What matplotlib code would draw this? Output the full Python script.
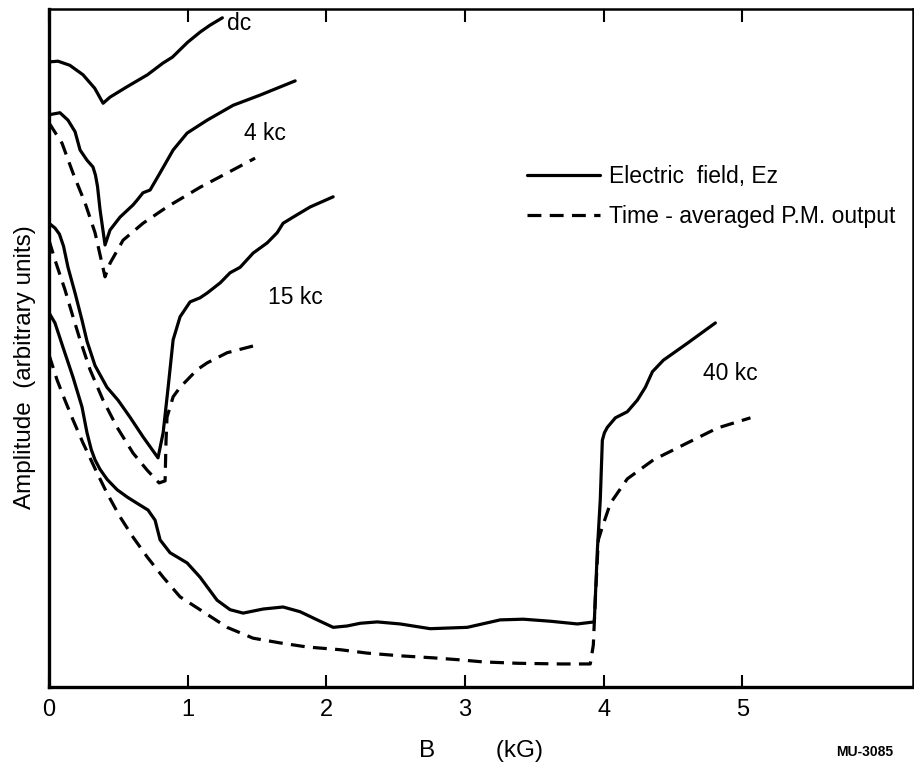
import matplotlib
matplotlib.use("Agg")
import matplotlib.pyplot as plt
from matplotlib.lines import Line2D

plt.rcParams["font.family"] = ["Liberation Sans", "DejaVu Sans"]
plt.rcParams["lines.scale_dashes"] = False

# B in kG, amplitude in arbitrary units (0..10 on the axis)
dc_b = [0, 0.065, 0.15, 0.245, 0.33, 0.39, 0.44, 0.56, 0.71, 0.82, 0.89, 1.0, 1.09, 1.16, 1.25]
dc_e = [9.22, 9.23, 9.17, 9.03, 8.83, 8.61, 8.70, 8.85, 9.03, 9.20, 9.29, 9.51, 9.66, 9.76, 9.87]

kc4_b = [0, 0.079, 0.137, 0.188, 0.224, 0.274, 0.317, 0.335, 0.350, 0.368, 0.404, 0.44,
         0.512, 0.606, 0.635, 0.678, 0.729, 0.80, 0.895, 0.996, 1.14, 1.328, 1.522, 1.775]
kc4_e = [8.44, 8.47, 8.36, 8.19, 7.92, 7.77, 7.67, 7.55, 7.38, 7.04, 6.52, 6.74,
         6.93, 7.11, 7.18, 7.29, 7.33, 7.58, 7.92, 8.17, 8.36, 8.58, 8.73, 8.94]
kc4_pm_b = [0, 0.094, 0.173, 0.26, 0.332, 0.404, 0.44, 0.534, 0.678, 0.851, 1.089, 1.284, 1.486]
kc4_pm = [8.32, 8.02, 7.58, 7.14, 6.70, 6.05, 6.25, 6.59, 6.84, 7.08, 7.37, 7.58, 7.80]

kc15_b = [0, 0.043, 0.075, 0.105, 0.137, 0.188, 0.238, 0.274, 0.332, 0.418, 0.498, 0.584,
          0.678, 0.786, 0.823, 0.859, 0.895, 0.945, 1.017, 1.089, 1.140, 1.234, 1.306,
          1.378, 1.472, 1.573, 1.645, 1.688, 1.760, 1.883, 2.049]
kc15_e = [6.84, 6.77, 6.68, 6.50, 6.19, 5.81, 5.41, 5.10, 4.74, 4.42, 4.23, 3.98,
          3.69, 3.38, 3.75, 4.42, 5.12, 5.46, 5.68, 5.74, 5.81, 5.96, 6.11,
          6.19, 6.40, 6.55, 6.70, 6.84, 6.93, 7.08, 7.23]
kc15_pm_b = [0, 0.043, 0.115, 0.173, 0.224, 0.296, 0.39, 0.491, 0.606, 0.707, 0.794,
             0.837, 0.844, 0.851, 0.895, 0.945, 1.068, 1.14, 1.284, 1.472]
kc15_pm = [6.59, 6.30, 5.86, 5.46, 5.12, 4.68, 4.23, 3.83, 3.45, 3.20, 3.01,
           3.04, 3.64, 3.98, 4.28, 4.42, 4.68, 4.78, 4.93, 5.03]

kc40_b = [0, 0.043, 0.101, 0.173, 0.238, 0.274, 0.305, 0.332, 0.368, 0.42, 0.491, 0.565,
          0.635, 0.714, 0.765, 0.801, 0.873, 0.996, 1.089, 1.212, 1.306, 1.400, 1.544,
          1.688, 1.811, 1.934, 2.049, 2.150, 2.244, 2.367, 2.532, 2.749, 3.016, 3.254,
          3.420, 3.615, 3.810, 3.932, 3.954, 3.975, 3.990, 4.005, 4.026, 4.084, 4.170,
          4.242, 4.300, 4.351, 4.430, 4.603, 4.805]
kc40_e = [5.52, 5.37, 5.01, 4.57, 4.13, 3.75, 3.50, 3.35, 3.21, 3.06, 2.91, 2.80,
          2.71, 2.61, 2.46, 2.17, 1.98, 1.83, 1.62, 1.28, 1.14, 1.09, 1.15,
          1.18, 1.11, 0.99, 0.88, 0.90, 0.94, 0.96, 0.93, 0.86, 0.88, 0.99,
          1.00, 0.97, 0.93, 0.96, 2.02, 2.76, 3.64, 3.75, 3.83, 3.97, 4.06,
          4.23, 4.42, 4.65, 4.82, 5.07, 5.37]
kc40_pm_b = [0, 0.058, 0.115, 0.173, 0.245, 0.346, 0.418, 0.512, 0.606, 0.707, 0.823,
             0.945, 1.089, 1.284, 1.472, 1.667, 1.861, 2.100, 2.294, 2.532, 2.771,
             2.965, 3.131, 3.377, 3.687, 3.903, 3.925, 3.939, 3.961, 3.990, 4.048,
             4.170, 4.358, 4.603, 4.820, 5.058]
kc40_pm = [4.90, 4.53, 4.23, 3.94, 3.60, 3.16, 2.86, 2.51, 2.21, 1.92, 1.62,
           1.33, 1.14, 0.88, 0.72, 0.65, 0.59, 0.55, 0.50, 0.46, 0.43,
           0.40, 0.37, 0.35, 0.34, 0.34, 0.62, 1.28, 2.17, 2.36, 2.71,
           3.07, 3.35, 3.60, 3.82, 3.97]

curve_labels = ["dc", "4 kc", "15 kc", "40 kc"]
label_b = [1.37, 1.56, 1.78, 4.91]
label_amp = [9.78, 8.17, 5.74, 4.63]

x_ticks = [0, 1, 2, 3, 4, 5]

LW = 2.3
DASH = (10, 6)

fig = plt.figure(figsize=(9.14, 7.65), dpi=100)
ax = fig.add_axes([49 / 914, 78 / 765, 864 / 914, 678 / 765])

solid = dict(color="black", lw=LW, solid_joinstyle="round", solid_capstyle="round")
dashed = dict(color="black", lw=LW, dashes=DASH, dash_capstyle="butt")

ax.plot(dc_b, dc_e, **solid)
ax.plot(kc4_b, kc4_e, **solid)
ax.plot(kc4_pm_b, kc4_pm, **dashed)
ax.plot(kc15_b, kc15_e, **solid)
ax.plot(kc15_pm_b, kc15_pm, **dashed)
ax.plot(kc40_b, kc40_e, **solid)
ax.plot(kc40_pm_b, kc40_pm, **dashed)

for txt, bx, ay in zip(curve_labels, label_b, label_amp):
    ax.text(bx, ay, txt, fontsize=16.5, ha="center", va="center")

ax.set_xlim(0, 6.23)
ax.set_ylim(0, 10)
ax.set_yticks([])
ax.set_xticks(x_ticks)
ax.set_xticklabels([str(t) for t in x_ticks])
ax.tick_params(axis="x", direction="in", length=9, width=1.5, top=True,
               labelsize=17, pad=9)
for side in ["left", "bottom"]:
    ax.spines[side].set_linewidth(2.4)
for side in ["top", "right"]:
    ax.spines[side].set_linewidth(1.8)

ax.set_xlabel("B         (kG)", fontsize=17.5, labelpad=13)
fig.text(25 / 914, 1 - 367 / 765, "Amplitude  (arbitrary units)", rotation=90,
         fontsize=17.5, ha="center", va="center")

handles = [Line2D([], [], **solid), Line2D([], [], **dashed)]
ax.legend(handles, ["Electric  field, Ez", "Time - averaged P.M. output"],
          loc="upper left", bbox_to_anchor=(0.553, 0.77), frameon=False,
          fontsize=16.5, handlelength=3.2, handletextpad=0.4, labelspacing=0.75,
          borderpad=0, borderaxespad=0)

fig.text(865 / 914, 1 - 752 / 765, "MU-3085", fontsize=10, fontweight="bold",
         ha="center", va="center")

fig.savefig("out.png", dpi=100)
